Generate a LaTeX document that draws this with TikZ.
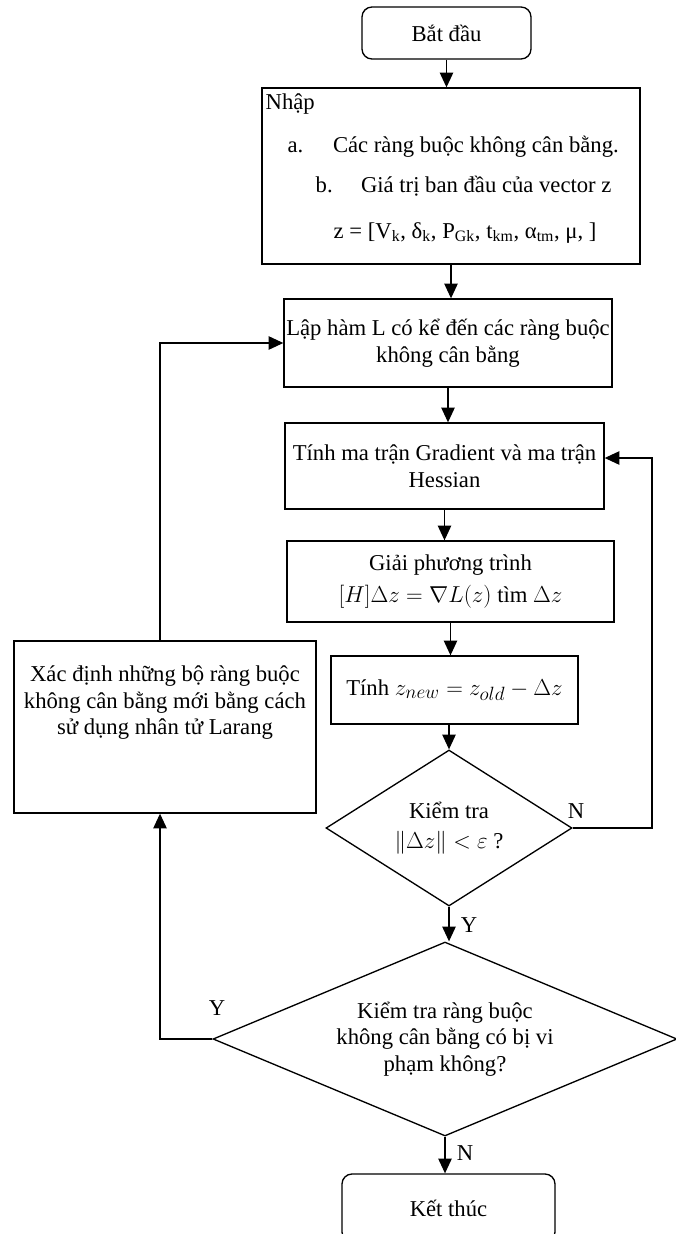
\documentclass[tikz,border=0pt]{standalone}
\usepackage{fontspec}
\setmainfont{Liberation Serif}
\usetikzlibrary{arrows.meta,shapes.geometric}

\newcommand{\flowfont}{\fontsize{17}{20}\selectfont}
\newcommand{\bigmath}{\fontsize{19}{22}\selectfont}

\tikzset{every picture/.style={line width=1pt}}

\begin{document}
\begin{tikzpicture}[x=0.75pt,y=0.75pt,yscale=-1,xscale=1,
  proc/.style={draw,rectangle,inner sep=0pt,align=center,font=\flowfont},
  term/.style={proc,rounded corners=7.5pt},
  test/.style={draw,diamond,inner sep=0pt,align=center,font=\flowfont},
  arr/.style={-{Triangle[length=11pt,width=10pt]}},
  lbl/.style={inner sep=0.75pt,font=\flowfont}]
\useasboundingbox (0,0) rectangle (675,1234);

%Shape: Rounded Rect [id:start]
\node [term,minimum width=126.75pt,minimum height=39pt] (start) at (446.5,33) {Bắt đầu};
%Shape: Rectangle [id:input]
\node [proc,minimum width=283.5pt,minimum height=132pt] (input) at (451,176) {};
% Text Node
\node [lbl,anchor=base west] (nhap) at (264,110) {Nhập};
% Text Node
\node [lbl,anchor=base west] (itema) at (286,153) {\makebox[34pt][l]{a.}Các ràng buộc không cân bằng.};
% Text Node
\node [lbl,anchor=base west] (itemb) at (314,192) {\makebox[34pt][l]{b.}Giá trị ban đầu của vector z};
% Text Node
\node [lbl,anchor=base west] (zvec) at (332,238) {z = [V\textsubscript{k}, δ\textsubscript{k}, P\textsubscript{Gk}, t\textsubscript{km}, α\textsubscript{tm}, μ, ]};
%Shape: Rectangle [id:lagr]
\node [proc,minimum width=246pt,minimum height=66pt] (lagr) at (448,343) {Lập hàm L có kể đến các ràng buộc\\không cân bằng};
%Shape: Rectangle [id:grad]
\node [proc,minimum width=239.25pt,minimum height=64.5pt] (grad) at (444.5,466) {Tính ma trận Gradient và ma trận\\Hessian};
%Shape: Rectangle [id:solve]
\node [proc,minimum width=245.25pt,minimum height=60.75pt] (solve) at (450.5,581.5) {Giải phương trình\\[4pt]{\bigmath $[H]\Delta z=\nabla L(z)$} tìm {\bigmath $\Delta z$}};
%Shape: Rectangle [id:newz]
\node [proc,minimum width=185.25pt,minimum height=51pt] (newz) at (454.5,690) {Tính\ {\bigmath $z_{new}=z_{old}-\Delta z$}};
%Shape: Diamond [id:chk1]
\node [test,aspect=1.58,minimum width=184.5pt,minimum height=117pt] (chk1) at (449,828) {Kiểm tra\\[3pt]{\bigmath $\left\|\Delta z\right\|<\varepsilon$} ?};
%Shape: Diamond [id:chk2]
\node [test,aspect=2.4,minimum width=348pt,minimum height=145.5pt] (chk2) at (445,1039) {Kiểm tra ràng buộc\\không cân bằng có bị vi\\phạm không?};
%Shape: Rounded Rect [id:stop]
\node [term,minimum width=159.75pt,minimum height=51pt] (stop) at (448.5,1208) {Kết thúc};
%Shape: Rectangle [id:upd]
\node [proc,minimum width=226.5pt,minimum height=129pt] (upd) at (165,727) {};
% Text Node
\node [lbl,anchor=north,align=center] (updtxt) at (165,664) {Xác định những bộ ràng buộc\\không cân bằng mới bằng cách\\sử dụng nhân tử Larang};

\coordinate (nret) at (652,458);
\coordinate (yret) at (160,1039);

%Straight Lines
\draw [arr] (start.south) -- (start.south |- input.north);
\draw [arr] (input.south) -- (input.south |- lagr.north);
\draw [arr] (lagr.south) -- (lagr.south |- grad.north);
\draw [arr] (grad.south) -- (grad.south |- solve.north);
\draw [arr] (solve.south) -- (solve.south |- newz.north);
\draw [arr] (newz.south -| chk1.north) -- (chk1.north);
\draw [arr] (chk1.south) -- (chk1.south |- chk2.north);
\draw [arr] (chk2.south) -- (chk2.south |- stop.north);
\draw [arr] (chk1.east) -| (nret) -- (grad.east |- nret);
\draw [arr] (chk2.west) -- (yret) -- (yret |- upd.south);
\draw [arr] (yret |- upd.north) |- (lagr.west);

% Text Node
\node [lbl] (nlab1) at (576,811) {N};
% Text Node
\node [lbl] (ylab1) at (469,925) {Y};
% Text Node
\node [lbl] (ylab2) at (217,1008) {Y};
% Text Node
\node [lbl] (nlab2) at (465,1153) {N};

\end{tikzpicture}
\end{document}
